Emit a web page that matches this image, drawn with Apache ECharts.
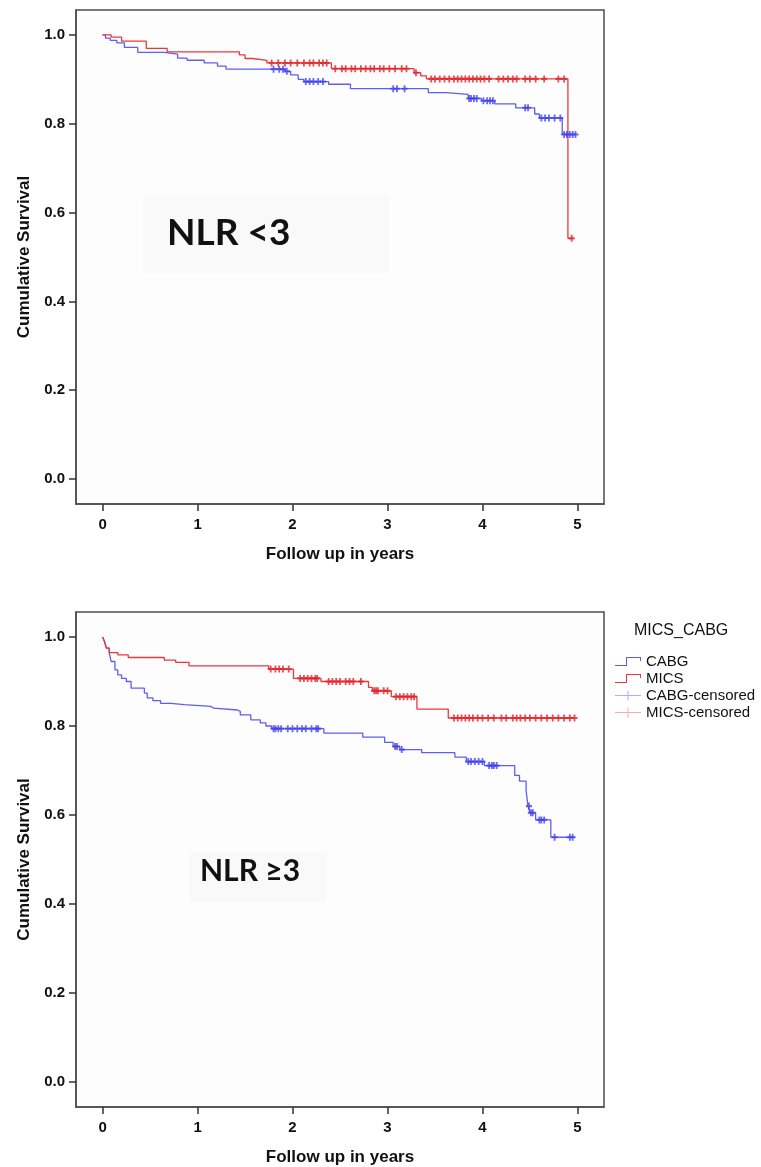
<!DOCTYPE html>
<html>
<head>
<meta charset="utf-8">
<script src="https://cdn.jsdelivr.net/npm/echarts@6/dist/echarts.min.js"></script>
<style>
html,body{margin:0;padding:0;background:#fff;}
#chart{width:761px;height:1167px;}
</style>
</head>
<body>
<div id="chart"></div>
<script>
// ---------- DATA ----------
const xTicks = [0, 1, 2, 3, 4, 5];
const yTicks = [0.0, 0.2, 0.4, 0.6, 0.8, 1.0];
const legendNames = ['CABG', 'MICS', 'CABG-censored', 'MICS-censored'];
const panelLabels = ['NLR <3', 'NLR \u22653'];

// Panel 1: NLR < 3
const cabgTopTimes = [0, 0.03, 0.08, 0.15, 0.23, 0.37, 0.65, 0.79, 0.89, 1.07, 1.21, 1.30, 1.92, 1.98, 2.06, 2.12, 2.38, 2.61, 3.43, 3.62, 3.85, 3.99, 4.13, 4.35, 4.55, 4.60, 4.84, 4.98];
const cabgTopSurv  = [1.0, 0.993, 0.988, 0.982, 0.972, 0.961, 0.957, 0.948, 0.943, 0.937, 0.930, 0.923, 0.918, 0.910, 0.900, 0.895, 0.889, 0.879, 0.870, 0.866, 0.857, 0.852, 0.845, 0.836, 0.822, 0.813, 0.776, 0.776];
const cabgTopCens  = [1.80, 1.86, 1.90, 1.94, 2.14, 2.18, 2.22, 2.27, 2.32, 3.06, 3.10, 3.18, 3.86, 3.88, 3.91, 3.94, 4.01, 4.05, 4.08, 4.11, 4.45, 4.48, 4.62, 4.66, 4.70, 4.76, 4.82, 4.86, 4.89, 4.92, 4.95, 4.98];
const micsTopTimes = [0, 0.09, 0.20, 0.46, 0.68, 1.44, 1.50, 1.58, 1.73, 2.41, 3.28, 3.35, 3.41, 4.90, 4.95];
const micsTopSurv  = [1.0, 0.995, 0.986, 0.970, 0.962, 0.955, 0.947, 0.943, 0.937, 0.924, 0.915, 0.908, 0.901, 0.542, 0.542];
const micsTopCens  = [1.78, 1.85, 1.92, 1.98, 2.05, 2.12, 2.18, 2.22, 2.28, 2.32, 2.36, 2.45, 2.52, 2.56, 2.62, 2.66, 2.72, 2.77, 2.82, 2.86, 2.92, 2.96, 3.02, 3.08, 3.15, 3.20, 3.30, 3.46, 3.50, 3.55, 3.60, 3.65, 3.70, 3.74, 3.78, 3.82, 3.86, 3.90, 3.94, 3.98, 4.02, 4.07, 4.17, 4.22, 4.27, 4.32, 4.36, 4.45, 4.50, 4.56, 4.65, 4.80, 4.86, 4.94];

// Panel 2: NLR >= 3
const cabgBotTimes = [0, 0.02, 0.04, 0.07, 0.09, 0.13, 0.16, 0.20, 0.25, 0.30, 0.44, 0.47, 0.53, 0.61, 0.72, 0.86, 1.14, 1.17, 1.42, 1.45, 1.56, 1.66, 1.72, 1.78, 2.33, 2.74, 2.97, 3.06, 3.13, 3.36, 3.71, 3.83, 4.02, 4.34, 4.39, 4.46, 4.48, 4.50, 4.56, 4.72, 4.97];
const cabgBotSurv  = [1.0, 0.990, 0.975, 0.964, 0.945, 0.926, 0.915, 0.907, 0.900, 0.885, 0.874, 0.863, 0.857, 0.851, 0.848, 0.844, 0.840, 0.836, 0.833, 0.825, 0.814, 0.807, 0.800, 0.794, 0.784, 0.775, 0.763, 0.754, 0.747, 0.740, 0.730, 0.720, 0.711, 0.689, 0.676, 0.654, 0.620, 0.605, 0.589, 0.550, 0.550];
const cabgBotCens  = [1.80, 1.82, 1.85, 1.88, 1.95, 2.00, 2.05, 2.10, 2.14, 2.20, 2.25, 2.27, 3.08, 3.10, 3.15, 3.85, 3.88, 3.92, 3.96, 4.00, 4.07, 4.10, 4.12, 4.15, 4.49, 4.51, 4.53, 4.60, 4.62, 4.65, 4.76, 4.92, 4.95];
const micsBotTimes = [0, 0.02, 0.04, 0.07, 0.16, 0.27, 0.65, 0.77, 0.91, 1.75, 2.01, 2.30, 2.80, 2.84, 3.04, 3.31, 3.64, 4.97];
const micsBotSurv  = [1.0, 0.990, 0.975, 0.965, 0.960, 0.954, 0.948, 0.943, 0.935, 0.928, 0.907, 0.900, 0.887, 0.879, 0.866, 0.838, 0.818, 0.818];
const micsBotCens  = [1.77, 1.82, 1.86, 1.90, 1.96, 2.08, 2.12, 2.16, 2.20, 2.24, 2.26, 2.38, 2.42, 2.46, 2.50, 2.56, 2.60, 2.64, 2.72, 2.86, 2.88, 2.90, 2.96, 3.00, 3.09, 3.13, 3.17, 3.21, 3.25, 3.28, 3.70, 3.74, 3.78, 3.82, 3.86, 3.90, 3.95, 4.00, 4.06, 4.12, 4.20, 4.25, 4.32, 4.36, 4.40, 4.45, 4.50, 4.56, 4.62, 4.68, 4.74, 4.80, 4.86, 4.92, 4.97];

// ---------- STYLE ----------
const BLUE = '#5e5ef2', BLUE_C = '#4444ec', BLUE_L = '#9a9af4';
const RED = '#e8383c', RED_C = '#e42228', RED_L = '#f29a9a';
const AXFONT = '"Liberation Sans", Arial, sans-serif';
const plusSym = 'path://M3.5,0H6.5V10H3.5Z M0,3.5H10V6.5H0Z';

function stepAt(times, surv, t) {
  let v = surv[0];
  for (let i = 0; i < times.length; i++) if (times[i] <= t) v = surv[i];
  return v;
}
function curve(times, surv) { return times.map((t, i) => [t, surv[i]]); }
function cens(times, surv, ct) { return ct.map(t => [t, stepAt(times, surv, t)]); }

const chart = echarts.init(document.getElementById('chart'), null, {renderer: 'canvas'});

const grids = [
  {left: 76, top: 10, width: 528, height: 494},
  {left: 76, top: 612, width: 528, height: 496}
];
const gridStyle = {show: true, borderColor: '#4d4d4d', borderWidth: 1.5, backgroundColor: '#fdfdfd'};

function xAxis(i) {
  return {
    gridIndex: i, type: 'value', min: -0.28, max: 5.28,
    name: 'Follow up in years', nameLocation: 'middle', nameGap: 42,
    nameTextStyle: {fontFamily: AXFONT, fontWeight: 'bold', fontSize: 17, color: '#111'},
    axisLine: {show: true, onZero: false, lineStyle: {color: '#4d4d4d', width: 1.5}},
    axisTick: {show: true, length: 7, customValues: xTicks, lineStyle: {color: '#333', width: 1.5}},
    axisLabel: {customValues: xTicks, margin: 13, fontFamily: AXFONT, fontWeight: 'bold', fontSize: 15, color: '#111', formatter: v => String(v)},
    splitLine: {show: false}
  };
}
function yAxis(i) {
  return {
    gridIndex: i, type: 'value', min: -0.0562, max: 1.0562,
    name: 'Cumulative Survival', nameLocation: 'middle', nameGap: 42,
    nameTextStyle: {fontFamily: AXFONT, fontWeight: 'bold', fontSize: 17, color: '#111'},
    axisLine: {show: true, onZero: false, lineStyle: {color: '#4d4d4d', width: 1.5}},
    axisTick: {show: true, length: 7, customValues: yTicks, lineStyle: {color: '#333', width: 1.5}},
    axisLabel: {customValues: yTicks, margin: 11, fontFamily: AXFONT, fontWeight: 'bold', fontSize: 15, color: '#111', formatter: v => v.toFixed(1)},
    splitLine: {show: false}
  };
}

function lineSeries(name, i, data, color) {
  return {name, type: 'line', xAxisIndex: i, yAxisIndex: i, data, step: 'end', showSymbol: false,
    lineStyle: {color, width: 1.3}, itemStyle: {color}, silent: true, z: 2, animation: false};
}
function censSeries(name, i, data, color) {
  return {name, type: 'scatter', xAxisIndex: i, yAxisIndex: i, data, symbol: plusSym, symbolSize: [6, 7],
    itemStyle: {color}, silent: true, z: 3, animation: false};
}

const stepIcon = 'path://M0,9H11V1H26V5H25V2H12V10H0Z';
const crossIcon = 'path://M0,4.5H26V5.5H0Z M12.5,0H13.5V10H12.5Z';

const option = {
  animation: false,
  backgroundColor: '#ffffff',
  grid: grids.map(g => Object.assign({}, g, gridStyle)),
  xAxis: [xAxis(0), xAxis(1)],
  yAxis: [yAxis(0), yAxis(1)],
  legend: {
    orient: 'vertical', left: 610, top: 648, itemWidth: 26, itemHeight: 10, itemGap: 0,
    selectedMode: false,
    textStyle: {fontFamily: AXFONT, fontSize: 15, color: '#111', lineHeight: 17},
    data: [
      {name: legendNames[0], icon: stepIcon, itemStyle: {color: BLUE, borderWidth: 0}, lineStyle: {color: BLUE, width: 0}},
      {name: legendNames[1], icon: stepIcon, itemStyle: {color: RED, borderWidth: 0}, lineStyle: {color: RED, width: 0}},
      {name: legendNames[2], icon: crossIcon, itemStyle: {color: BLUE_L, borderWidth: 0}},
      {name: legendNames[3], icon: crossIcon, itemStyle: {color: RED_L, borderWidth: 0}}
    ]
  },
  graphic: [
    {type: 'rect', shape: {x: 143, y: 195, width: 246, height: 78}, style: {fill: '#f9f9f9'}, z: 1, silent: true},
    {type: 'rect', shape: {x: 190, y: 852, width: 136, height: 50}, style: {fill: '#f9f9f9'}, z: 1, silent: true},
    {type: 'text', x: 167, y: 233, z: 5, style: {text: panelLabels[0], fill: '#111', font: 'bold 37px Lato, "Open Sans", sans-serif', textVerticalAlign: 'middle'}},
    {type: 'text', x: 200, y: 871, z: 5, style: {text: panelLabels[1], fill: '#111', font: 'bold 30px Lato, "Open Sans", sans-serif', textVerticalAlign: 'middle'}},
    {type: 'text', x: 634, y: 631, z: 5, style: {text: 'MICS_CABG', fill: '#111', font: '16px "Liberation Sans", Arial, sans-serif', textVerticalAlign: 'middle'}}
  ],
  series: [
    lineSeries(legendNames[0], 0, curve(cabgTopTimes, cabgTopSurv), BLUE),
    lineSeries(legendNames[1], 0, curve(micsTopTimes, micsTopSurv), RED),
    censSeries(legendNames[2], 0, cens(cabgTopTimes, cabgTopSurv, cabgTopCens), BLUE_C),
    censSeries(legendNames[3], 0, cens(micsTopTimes, micsTopSurv, micsTopCens), RED_C),
    lineSeries(legendNames[0], 1, curve(cabgBotTimes, cabgBotSurv), BLUE),
    lineSeries(legendNames[1], 1, curve(micsBotTimes, micsBotSurv), RED),
    censSeries(legendNames[2], 1, cens(cabgBotTimes, cabgBotSurv, cabgBotCens), BLUE_C),
    censSeries(legendNames[3], 1, cens(micsBotTimes, micsBotSurv, micsBotCens), RED_C)
  ]
};
chart.setOption(option);
</script>
</body>
</html>
